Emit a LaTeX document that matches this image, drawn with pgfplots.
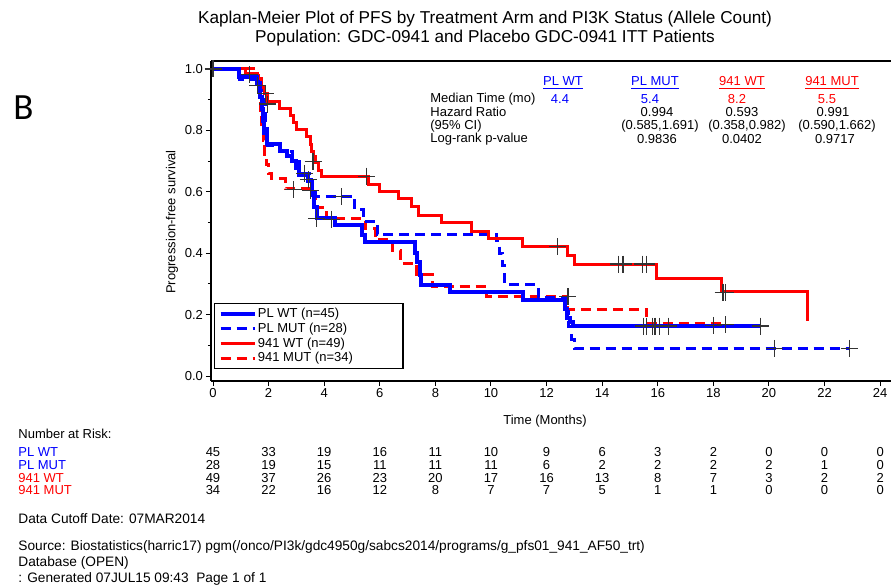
\documentclass[border=0pt]{standalone}
\usepackage{pgfplots}
\pgfplotsset{compat=1.18}
\usepackage{fontspec}
\setmainfont{Liberation Sans}
\newfontfamily\calibri{Carlito}
\definecolor{kmblue}{RGB}{0,0,255}
\definecolor{kmred}{RGB}{255,0,0}
\newcommand\sm{\fontsize{6.5pt}{7.8pt}\selectfont}
\newcommand\fn{\fontsize{6.85pt}{8pt}\selectfont}
\newcommand\tl{\fontsize{8.6pt}{10pt}\selectfont}

\begin{document}
\begin{tikzpicture}
\begin{axis}[
  at={(105.5pt,-190.5pt)}, anchor=south west,
  scale only axis, width=340pt, height=160pt,
  xmin=-0.072, xmax=24.39, ymin=-0.016, ymax=1.026,
  axis x line=box, axis y line*=left,
  xtick={0,2,4,6,8,10,12,14,16,18,20,22,24},
  ytick={0,0.2,0.4,0.6,0.8,1.0},
  minor ytick={0.1,0.3,0.5,0.7,0.9},
  xtick pos=left, ytick pos=left,
  tick align=outside, major tick length=2.5pt, minor tick length=1.5pt,
  tick style={black, line width=0.5pt},
  axis line style={line width=0.6pt},
  ticklabel style={font=\sm},
  xticklabel style={yshift=2.5pt},
  yticklabel style={xshift=2pt, /pgf/number format/.cd, fixed, fixed zerofill, precision=1},
  /pgf/number format/assume math mode=true,
  legend style={at={(0.0044,0.244)}, anchor=north west, draw=black,
    line width=0.7pt, font=\sm, inner xsep=2pt, inner ysep=1.5pt,
    nodes={inner sep=0.6pt, text height=4.9pt, text depth=1.25pt},
    cells={anchor=west}},
  legend image code/.code={\draw[#1] (0pt,0pt) -- (17pt,0pt);},
]
% legend samples
\addlegendimage{kmblue, line width=2pt}
\addlegendentry{\makebox[70pt][l]{PL WT (n=45)}}
\addlegendimage{kmblue, line width=1.5pt, dash pattern=on 5pt off 3pt}
\addlegendentry{\makebox[70pt][l]{PL MUT (n=28)}}
\addlegendimage{kmred, line width=1.5pt}
\addlegendentry{\makebox[70pt][l]{941 WT (n=49)}}
\addlegendimage{kmred, line width=1.5pt, dash pattern=on 5pt off 3pt}
\addlegendentry{\makebox[70pt][l]{941 MUT (n=34)}}

% 941 MUT
\addplot[forget plot, kmred, line width=1.5pt, dash pattern=on 5pt off 3pt, const plot] coordinates {
(0,1.0) (1.6,0.98) (1.65,0.93) (1.7,0.86) (1.75,0.80) (1.8,0.766) (1.87,0.72)
(1.94,0.69) (2.0,0.66) (2.1,0.642) (2.6,0.61) (3.6,0.58) (3.7,0.548)
(4.1,0.512) (5.47,0.479) (5.83,0.444) (6.47,0.41) (6.73,0.368) (7.33,0.33)
(7.9,0.292) (9.85,0.26) (12.77,0.218) (15.6,0.172) (18.4,0.172)};
% PL MUT
\addplot[forget plot, kmblue, line width=1.5pt, dash pattern=on 5pt off 3pt, const plot] coordinates {
(0,1.0) (0.97,0.965) (1.7,0.93) (1.85,0.89) (1.9,0.82) (1.95,0.75) (2.4,0.73)
(2.85,0.70) (3.1,0.66) (3.55,0.62) (3.67,0.586) (5.1,0.542) (5.4,0.504)
(5.9,0.461) (10.2,0.44) (10.3,0.40) (10.4,0.36) (10.5,0.297) (11.7,0.256)
(12.7,0.21) (12.8,0.16) (12.9,0.12) (13.0,0.09) (22.9,0.09)};
% 941 WT
\addplot[forget plot, kmred, line width=1.5pt, const plot] coordinates {
(0,1.0) (1.18,0.985) (1.6,0.97) (1.75,0.94) (1.85,0.92) (1.95,0.895) (2.41,0.87)
(2.77,0.848) (2.89,0.826) (3.01,0.804) (3.37,0.78) (3.49,0.755) (3.55,0.73)
(3.61,0.715) (3.67,0.694) (3.8,0.67) (3.91,0.65) (5.58,0.623) (6.0,0.602)
(6.66,0.577) (7.14,0.553) (7.4,0.524) (8.23,0.499) (9.3,0.472) (9.9,0.448)
(11.15,0.422) (12.77,0.393) (13.0,0.365) (15.97,0.319) (18.3,0.275) (21.4,0.18)};
% PL WT
\addplot[forget plot, kmblue, line width=2pt, const plot] coordinates {
(0,1.0) (0.93,0.975) (1.6,0.955) (1.7,0.91) (1.75,0.87) (1.8,0.83) (1.85,0.79)
(1.94,0.755) (2.4,0.733) (2.65,0.717) (2.85,0.70) (3.0,0.678) (3.1,0.656)
(3.4,0.634) (3.55,0.59) (3.65,0.55) (3.73,0.515) (4.4,0.493) (5.36,0.46)
(5.45,0.437) (7.27,0.40) (7.35,0.37) (7.45,0.33) (7.5,0.296) (8.52,0.274)
(11.15,0.248) (12.66,0.22) (12.75,0.19) (12.85,0.175) (12.95,0.163) (19.7,0.163)};

% censored observations
\addplot[forget plot, only marks, mark=+, mark size=4.25pt, black!80,
  mark options={line width=0.6pt}] coordinates {
(0,1.0) (1.3,0.982) (1.6,0.947) (1.9,0.92) (1.97,0.886) (3.6,0.698)
(3.3,0.66) (3.43,0.64) (2.9,0.608) (3.5,0.605) (4.63,0.584) (3.73,0.514)
(4.25,0.511) (5.53,0.651)
(12.4,0.422) (12.77,0.258) (14.6,0.365) (14.75,0.365) (15.45,0.365) (15.6,0.365)
(18.35,0.273) (18.45,0.273)
(15.5,0.163) (15.6,0.163) (15.8,0.163) (15.9,0.163) (16.05,0.163) (16.4,0.163)
(18.0,0.165) (18.45,0.168) (19.7,0.163)
(20.2,0.09) (22.9,0.09)};
\end{axis}

\begin{scope}[x=0.5pt, y=-0.5pt]
% titles
\node[font=\tl] at (485,19) {Kaplan-Meier Plot of PFS by Treatment Arm and PI3K Status (Allele Count)};
\node[font=\tl] at (485,38) {Population: GDC-0941 and Placebo GDC-0941 ITT Patients};
\node[font=\calibri\fontsize{18.5pt}{20pt}\selectfont, anchor=west, inner sep=0pt] at (13,108) {B};
% axis titles
\node[font=\sm, rotate=90] at (172,222) {Progression-free survival};
\node[font=\sm] at (545,421) {Time (Months)};
% summary statistics
\node[font=\sm, text=kmblue] at (563,83) {\underline{PL WT}};
\node[font=\sm, text=kmblue] at (655,83) {\underline{PL MUT}};
\node[font=\sm, text=kmred] at (742,83) {\underline{941 WT}};
\node[font=\sm, text=kmred] at (832,83) {\underline{941 MUT}};
\node[font=\sm, anchor=west, inner sep=0pt] at (430,99) {Median Time (mo)};
\node[font=\sm, anchor=west, inner sep=0pt] at (430,112) {Hazard Ratio};
\node[font=\sm, anchor=west, inner sep=0pt] at (430,126) {(95\% CI)};
\node[font=\sm, anchor=west, inner sep=0pt] at (430,139) {Log-rank p-value};
\node[font=\sm, text=kmblue] at (560,99) {4.4};
\node[font=\sm, text=kmblue] at (650,99) {5.4};
\node[font=\sm, text=kmred] at (737,99) {8.2};
\node[font=\sm, text=kmred] at (827,99) {5.5};
\node[font=\sm] at (657,112) {0.994};
\node[font=\sm] at (742,112) {0.593};
\node[font=\sm] at (833,112) {0.991};
\node[font=\sm] at (660,126) {(0.585,1.691)};
\node[font=\sm] at (747,126) {(0.358,0.982)};
\node[font=\sm] at (837,126) {(0.590,1.662)};
\node[font=\sm] at (657,139) {0.9836};
\node[font=\sm] at (742,139) {0.0402};
\node[font=\sm] at (835,139) {0.9717};
% number at risk
\node[font=\sm, anchor=west, inner sep=0pt] at (18,434) {Number at Risk:};
\node[font=\sm, anchor=west, inner sep=0pt, text=kmblue] at (18,452) {PL WT};
\node[font=\sm, anchor=west, inner sep=0pt, text=kmblue] at (18,465) {PL MUT};
\node[font=\sm, anchor=west, inner sep=0pt, text=kmred] at (18,478) {941 WT};
\node[font=\sm, anchor=west, inner sep=0pt, text=kmred] at (18,490) {941 MUT};
\foreach \n [count=\k from 0] in {45,33,19,16,11,10,9,6,3,2,0,0,0}
  \node[font=\sm] at (213+55.6*\k,452) {\n};
\foreach \n [count=\k from 0] in {28,19,15,11,11,11,6,2,2,2,2,1,0}
  \node[font=\sm] at (213+55.6*\k,465) {\n};
\foreach \n [count=\k from 0] in {49,37,26,23,20,17,16,13,8,7,3,2,2}
  \node[font=\sm] at (213+55.6*\k,478) {\n};
\foreach \n [count=\k from 0] in {34,22,16,12,8,7,7,5,1,1,0,0,0}
  \node[font=\sm] at (213+55.6*\k,490) {\n};
% footnotes
\node[font=\fn, anchor=west, inner sep=0pt] at (18,519) {Data Cutoff Date: 07MAR2014};
\node[font=\fn, anchor=west, inner sep=0pt] at (18,547) {Source: Biostatistics(harric17) pgm(/onco/PI3k/gdc4950g/sabcs2014/programs/g\_pfs01\_941\_AF50\_trt)};
\node[font=\fn, anchor=west, inner sep=0pt] at (18,563) {Database (OPEN)};
\node[font=\fn, anchor=west, inner sep=0pt] at (18,579) {: Generated 07JUL15 09:43\ \ Page 1 of 1};
\end{scope}
\pgfresetboundingbox
\path (0,0) rectangle (445.5pt,-293pt);
\end{tikzpicture}
\end{document}
